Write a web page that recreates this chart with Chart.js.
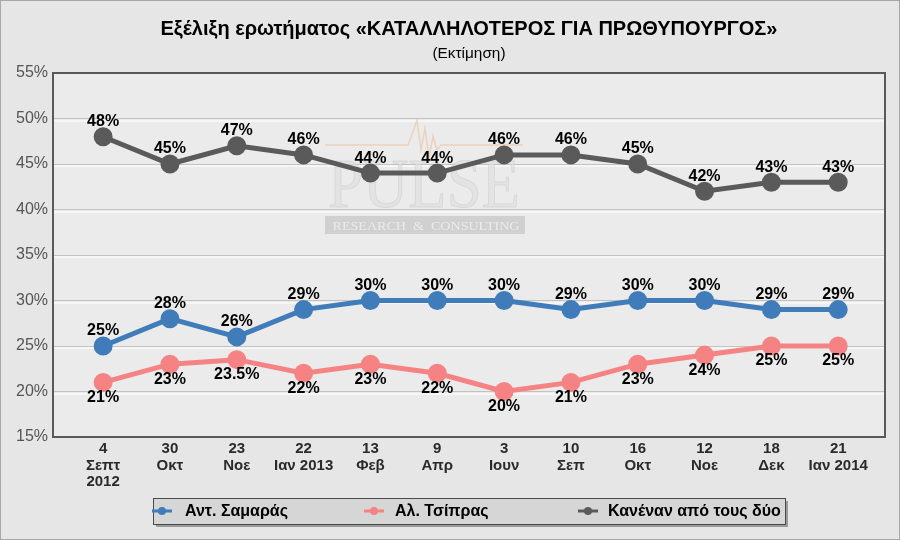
<!DOCTYPE html>
<html><head><meta charset="utf-8">
<script src="https://cdn.jsdelivr.net/npm/chart.js@4/dist/chart.umd.min.js"></script>
<style>html,body{margin:0;padding:0;background:#e6e6e6}#wrap{width:900px;height:540px;position:relative}canvas{display:block}</style>
</head><body><div id="wrap"><canvas id="c" width="900" height="540"></canvas></div>
<script>
const categories = [["4","Σεπτ","2012"],["30","Οκτ"],["23","Νοε"],["22","Ιαν 2013"],["13","Φεβ"],["9","Απρ"],["3","Ιουν"],["10","Σεπ"],["16","Οκτ"],["12","Νοε"],["18","Δεκ"],["21","Ιαν 2014"]];
const samaras = [25,28,26,29,30,30,30,29,30,30,29,29];
const tsipras = [21,23,23.5,22,23,22,20,21,23,24,25,25];
const noneOfTwo = [48,45,47,46,44,44,46,46,45,42,43,43];
const seriesNames = ["Αντ. Σαμαράς","Αλ. Τσίπρας","Κανέναν από τους δύο"];
const seriesColors = ["#3f7cb9","#f58383","#5a5a5a"];
const labelPlacement = ["above","below","above"];
const yMin = 15, yMax = 55, yStep = 5;
const titleText = "Εξέλιξη ερωτήματος «ΚΑΤΑΛΛΗΛΟΤΕΡΟΣ ΓΙΑ ΠΡΩΘΥΠΟΥΡΓΟΣ»";
const subtitleText = "(Εκτίμηση)";

const toPoints = arr => arr.map((v,i)=>({x:i,y:v}));
const seriesData = [samaras, tsipras, noneOfTwo];

function narrowText(ctx, text, cx, y, font, targetW){
  ctx.font = font;
  const w = ctx.measureText(text).width;
  const s = targetW / w;
  ctx.save();
  ctx.translate(cx, y);
  ctx.scale(s, 1);
  ctx.textAlign = 'center';
  ctx.fillText(text, 0, 0);
  ctx.restore();
}

const decor = {
  id:'decor',
  beforeDraw(chart){
    const {ctx, chartArea:a} = chart;
    ctx.save();
    ctx.fillStyle = '#e6e6e6';
    ctx.fillRect(0,0,chart.width,chart.height);
    ctx.strokeStyle = '#a8a8a8'; ctx.lineWidth = 1;
    ctx.strokeRect(0.5,0.5,chart.width-1,chart.height-1);
    ctx.fillStyle = '#ebebeb';
    ctx.fillRect(a.left,a.top,a.right-a.left,a.bottom-a.top);
    const ys = chart.scales.y;
    ctx.strokeStyle = '#f6f6f6'; ctx.lineWidth = 2;
    for(let v=yMin+yStep; v<yMax; v+=yStep){
      const py = Math.round(ys.getPixelForValue(v))+2;
      ctx.beginPath(); ctx.moveTo(a.left,py); ctx.lineTo(a.right,py); ctx.stroke();
    }
    ctx.fillStyle = '#000';
    ctx.textBaseline = 'alphabetic';
    const cx = (a.left + a.right)/2;
    narrowText(ctx, titleText, cx, 35, 'bold 20px "Liberation Sans", Arial, sans-serif', 617);
    narrowText(ctx, subtitleText, cx, 58, '15px "Liberation Sans", Arial, sans-serif', 73);
    ctx.restore();
  },
  beforeDatasetsDraw(chart){
    const {ctx} = chart;
    ctx.save();
    ctx.strokeStyle = 'rgba(235,190,150,0.55)'; ctx.lineWidth = 1.5;
    ctx.beginPath();
    ctx.moveTo(325,145); ctx.lineTo(408,145); ctx.lineTo(413,132); ctx.lineTo(417,120); ctx.lineTo(421,150);
    ctx.lineTo(425,128); ctx.lineTo(429,158); ctx.lineTo(433,136); ctx.lineTo(437,150); ctx.lineTo(441,145); ctx.lineTo(523,145);
    ctx.stroke();
    ctx.textBaseline = 'alphabetic';
    ctx.fillStyle = 'rgba(222,222,222,0.6)';
    ctx.strokeStyle = 'rgba(200,200,200,0.45)'; ctx.lineWidth = 1;
    ctx.save();
    ctx.font = '70px "Liberation Serif", "DejaVu Serif", serif';
    const pw = ctx.measureText('PULSE').width;
    ctx.translate(424, 207); ctx.scale(192/pw, 1); ctx.textAlign = 'center';
    ctx.fillText('PULSE', 0, 0); ctx.strokeText('PULSE', 0, 0);
    ctx.restore();
    ctx.fillStyle = 'rgba(185,185,185,0.55)';
    ctx.fillRect(325,216,200,18);
    ctx.fillStyle = 'rgba(240,240,240,0.85)';
    ctx.font = '13px "Liberation Serif", "DejaVu Serif", serif';
    ctx.textAlign = 'center';
    const cap = 'RESEARCH  &  CONSULTING';
    const cw = ctx.measureText(cap).width;
    ctx.translate(426, 230); ctx.scale(187/cw, 1);
    ctx.fillText(cap, 0, 0);
    ctx.restore();
  },
  afterDatasetsDraw(chart){
    const {ctx, chartArea:a} = chart;
    ctx.save();
    ctx.strokeStyle = '#595959'; ctx.lineWidth = 2;
    ctx.strokeRect(a.left, a.top, a.right-a.left, a.bottom-a.top);
    ctx.font = 'bold 16px "Liberation Sans", Arial, sans-serif';
    ctx.fillStyle = '#000'; ctx.textAlign = 'center'; ctx.textBaseline = 'middle';
    chart.data.datasets.forEach((ds, di)=>{
      const meta = chart.getDatasetMeta(di);
      meta.data.forEach((pt, i)=>{
        const v = seriesData[di][i];
        const off = labelPlacement[di]==='above' ? -15 : 15;
        ctx.fillText(v+'%', pt.x, pt.y+off);
      });
    });
    const lx=153, ly=498, lw=632, lh=26;
    ctx.fillStyle = '#9a9a9a'; ctx.fillRect(lx+3, ly+3, lw, lh);
    ctx.fillStyle = '#d6d6d6'; ctx.fillRect(lx, ly, lw, lh);
    ctx.strokeStyle = '#4a4a4a'; ctx.lineWidth = 1;
    ctx.strokeRect(lx+0.5, ly+0.5, lw, lh);
    const mx = [162, 374, 588], tx = [185, 395, 608];
    const my = ly + lh/2;
    ctx.font = 'bold 16px "Liberation Sans", Arial, sans-serif';
    ctx.textAlign = 'left'; ctx.textBaseline = 'middle';
    seriesNames.forEach((n,i)=>{
      ctx.strokeStyle = seriesColors[i]; ctx.lineWidth = 3;
      ctx.beginPath(); ctx.moveTo(mx[i]-10,my); ctx.lineTo(mx[i]+10,my); ctx.stroke();
      ctx.fillStyle = seriesColors[i];
      ctx.beginPath(); ctx.arc(mx[i], my, 4, 0, Math.PI*2); ctx.fill();
      ctx.fillStyle = '#000';
      ctx.fillText(n, tx[i], my+1);
    });
    ctx.restore();
  }
};

new Chart(document.getElementById('c'), {
  type:'line',
  data:{
    datasets: seriesNames.map((n,i)=>({
      label:n,
      data: toPoints(seriesData[i]),
      borderColor: seriesColors[i],
      backgroundColor: seriesColors[i],
      pointBackgroundColor: seriesColors[i],
      pointBorderColor: seriesColors[i],
      borderWidth: 5,
      pointRadius: 7,
      pointHoverRadius: 7,
      tension: 0,
      fill:false
    }))
  },
  options:{
    responsive:false,
    animation:false,
    devicePixelRatio:1,
    layout:{padding:{top:73,left:0,right:15,bottom:43}},
    plugins:{legend:{display:false}, title:{display:false}, tooltip:{enabled:false}},
    scales:{
      x:{
        type:'linear', min:-0.75, max:11.7,
        afterBuildTicks(scale){ scale.ticks = categories.map((_,i)=>({value:i})); },
        afterFit(scale){ scale.height = 60; },
        grid:{display:false, drawTicks:false},
        border:{display:false},
        ticks:{
          autoSkip:false, maxRotation:0, padding:4,
          color:'#2a2a2a',
          font:{family:'"Liberation Sans", Arial, sans-serif', size:15, weight:'bold', lineHeight:1.1},
          callback:(v)=>categories[v]
        }
      },
      y:{
        min:yMin, max:yMax,
        afterFit(scale){ scale.width = 53; },
        grid:{color:'#c2c2c2', lineWidth:1, drawTicks:false},
        border:{display:false},
        ticks:{
          stepSize:yStep, padding:5, color:'#555555',
          font:{family:'"Liberation Sans", Arial, sans-serif', size:16},
          callback:(v)=>v+'%'
        }
      }
    }
  },
  plugins:[decor]
});
</script>
</body></html>
